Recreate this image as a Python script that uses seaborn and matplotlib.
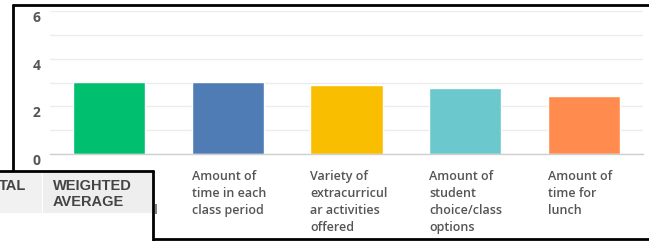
import matplotlib
matplotlib.use("Agg")
import matplotlib.pyplot as plt
import matplotlib.transforms as mtransforms
from matplotlib.patches import Rectangle
from matplotlib.lines import Line2D
import seaborn as sns
import pandas as pd

# data
categories = [
    "Total amount\nof instruction\ntime in school",
    "Amount of\ntime in each\nclass period",
    "Variety of\nextracurricul\nar activities\noffered",
    "Amount of\nstudent\nchoice/class\noptions",
    "Amount of\ntime for\nlunch",
]
weighted_avg = [3.02, 3.02, 2.91, 2.76, 2.45]
bar_colors = ["#00BF6F", "#507CB6", "#F9BE00", "#6BC8CD", "#FF8B4F"]
y_ticks = [0, 2, 4, 6]
table_headers = ["TAL", "WEIGHTED\nAVERAGE"]

W, H = 649, 241
sns.set_style("white")
fig = plt.figure(figsize=(W / 100, H / 100), dpi=100)


def fx(x):
    return x / W


def fy(y):
    return 1 - y / H


ax = fig.add_axes([fx(50), fy(154), fx(643) - fx(50), fy(11) - fy(154)])

df = pd.DataFrame({"category": categories, "avg": weighted_avg})
sns.barplot(data=df, x="category", y="avg", hue="category", palette=bar_colors,
            width=0.61, legend=False, ax=ax, saturation=1)

ax.set_xlim(-0.5, len(categories) - 0.5)
ax.set_ylim(0, 6)
ax.set_yticks(y_ticks)
ax.set_yticks([1, 3, 5], minor=True)
ax.grid(True, axis="y", which="both", color="#ececec", linewidth=1)
ax.set_axisbelow(True)
for s in ["top", "right", "left"]:
    ax.spines[s].set_visible(False)
ax.spines["bottom"].set_color("#cfcfcf")
ax.spines["bottom"].set_linewidth(1)
ax.set_xlabel("")
ax.set_ylabel("")
ax.tick_params(axis="both", which="both", length=0)
ax.tick_params(axis="y", pad=7)

# y labels sit a bit below their gridlines
for lab in ax.get_yticklabels():
    lab.set_va("top")
    lab.set_fontsize(10)
    lab.set_fontweight("bold")
    lab.set_color("#555555")
    lab.set_fontfamily("Open Sans")

# x labels left aligned with the bar edge
xlab_off = mtransforms.ScaledTranslation(-36 / 100, -11 / 100, fig.dpi_scale_trans)
clip = Rectangle((fx(154), 0), 1, 1, transform=fig.transFigure)
for lab in ax.get_xticklabels():
    lab.set_transform(lab.get_transform() + xlab_off)
    lab.set_ha("left")
    lab.set_va("top")
    lab.set_fontsize(9)
    lab.set_fontweight("semibold")
    lab.set_color("#555555")
    lab.set_fontfamily("Open Sans")
    lab.set_linespacing(1.4)
    lab.set_clip_path(clip)

# outer screenshot frame
frame_kw = dict(color="black", linewidth=2, transform=fig.transFigure, zorder=5)
fig.add_artist(Line2D([fx(13), fx(649)], [fy(5), fy(5)], **frame_kw))
fig.add_artist(Line2D([fx(13), fx(13)], [fy(5), fy(172)], **frame_kw))
fig.add_artist(Line2D([fx(153), fx(649)], [fy(239), fy(239)], **frame_kw))

# overlapping table snippet
fig.add_artist(Rectangle((fx(-5), fy(245)), fx(158), fy(171) - fy(245),
                         facecolor="white", edgecolor="none",
                         transform=fig.transFigure, zorder=6))
fig.add_artist(Rectangle((fx(0), fy(213)), fx(42), fy(172) - fy(213),
                         facecolor="#f1f1f1", edgecolor="none",
                         transform=fig.transFigure, zorder=7))
fig.add_artist(Rectangle((fx(43), fy(213)), fx(109), fy(172) - fy(213),
                         facecolor="#eeeeee", edgecolor="none",
                         transform=fig.transFigure, zorder=7))
box_kw = dict(color="black", linewidth=2, transform=fig.transFigure, zorder=8)
fig.add_artist(Line2D([fx(-5), fx(153)], [fy(171), fy(171)], **box_kw))
fig.add_artist(Line2D([fx(153), fx(153)], [fy(171), fy(245)], **box_kw))

hdr_kw = dict(fontsize=10.5, fontweight="bold", color="#444444",
              family="Liberation Sans", transform=fig.transFigure, zorder=9,
              va="center", ha="left", linespacing=1.15)
fig.text(fx(-1), fy(186), table_headers[0], **hdr_kw)
fig.text(fx(53), fy(194), table_headers[1], **hdr_kw)

fig.savefig("out.png", dpi=100)
